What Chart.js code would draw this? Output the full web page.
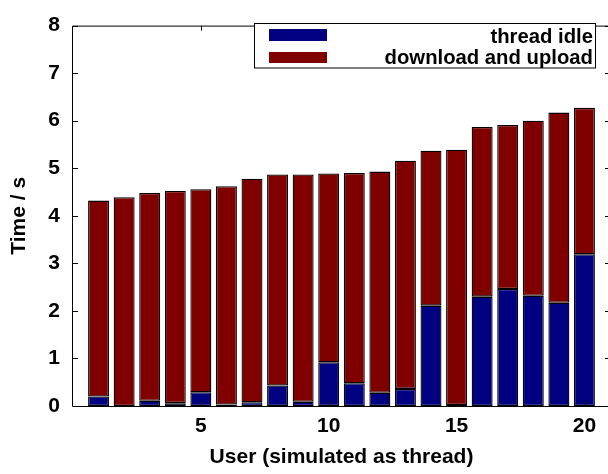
<!DOCTYPE html>
<html>
<head>
<meta charset="utf-8">
<title>Time per user</title>
<script src="https://cdn.jsdelivr.net/npm/chart.js@4/dist/chart.umd.min.js"></script>
<style>
  html, body { margin: 0; padding: 0; background: #fff; }
  #wrap { width: 608px; height: 474px; overflow: hidden; position: relative; }
  canvas { display: block; }
</style>
</head>
<body>
<div id="wrap"><canvas id="c" width="620" height="474"></canvas></div>
<script>
// Users 1..20 (each simulated as a thread)
const users = [1, 2, 3, 4, 5, 6, 7, 8, 9, 10, 11, 12, 13, 14, 15, 16, 17, 18, 19, 20];
// Seconds spent idle per thread
const threadIdle = [0.20, 0.00, 0.11, 0.06, 0.29, 0.03, 0.08, 0.43, 0.09, 0.92,
                    0.48, 0.28, 0.36, 2.11, 0.02, 2.30, 2.46, 2.32, 2.17, 3.19];
// Seconds spent downloading and uploading per thread
const downloadUpload = [4.12, 4.39, 4.37, 4.46, 4.27, 4.59, 4.70, 4.44, 4.78, 3.97,
                        4.42, 4.65, 4.80, 3.26, 5.37, 3.57, 3.45, 3.68, 4.00, 3.08];
const seriesNames = ['thread idle', 'download and upload'];
const seriesColors = ['#000080', '#800000'];
const xTicks = [5, 10, 15, 20];
const yTicks = [0, 1, 2, 3, 4, 5, 6, 7, 8];

const FONT = 'Liberation Sans, Arial, Helvetica, sans-serif';

const toPoints = vals => users.map((u, i) => ({ x: u, y: vals[i] }));

// Box around the plot with short inward tick marks on all four sides
const framePlugin = {
  id: 'frame',
  afterDatasetsDraw(chart) {
    const { ctx, chartArea: a, scales } = chart;
    ctx.save();
    ctx.strokeStyle = '#000';
    ctx.lineWidth = 1;
    ctx.beginPath();
    ctx.rect(a.left - 0.5, a.top + 0.5, a.right - a.left, a.bottom - a.top);
    ctx.stroke();
    const len = 5;
    ctx.beginPath();
    yTicks.forEach(v => {
      const y = Math.round(scales.y.getPixelForValue(v)) + 0.5;
      ctx.moveTo(a.left, y); ctx.lineTo(a.left + len, y);
      ctx.moveTo(a.right, y); ctx.lineTo(a.right - len, y);
    });
    xTicks.forEach(v => {
      const x = Math.round(scales.x.getPixelForValue(v)) + 0.5;
      ctx.moveTo(x, a.top); ctx.lineTo(x, a.top + len);
      ctx.moveTo(x, a.bottom); ctx.lineTo(x, a.bottom - len);
    });
    ctx.stroke();
    ctx.restore();
  }
};

// Legend box in the upper right: swatches on the left, right-aligned labels
const legendBoxPlugin = {
  id: 'legendBox',
  afterDraw(chart) {
    const { ctx } = chart;
    const box = { l: 254, t: 23.5, r: 595, b: 68 };
    ctx.save();
    ctx.fillStyle = '#fff';
    ctx.fillRect(box.l, box.t, box.r - box.l, box.b - box.t);
    ctx.strokeStyle = '#000';
    ctx.lineWidth = 1;
    ctx.strokeRect(box.l + 0.5, box.t, box.r - box.l, box.b - box.t);
    const rows = [
      { swTop: 29, swH: 12, base: 43 },
      { swTop: 52, swH: 11, base: 64 }
    ];
    ctx.font = 'bold 20.3px ' + FONT;
    ctx.textAlign = 'right';
    ctx.textBaseline = 'alphabetic';
    chart.data.datasets.forEach((ds, i) => {
      const r = rows[i];
      ctx.fillStyle = ds.backgroundColor;
      ctx.fillRect(269, r.swTop, 58, r.swH);
      ctx.fillStyle = '#000';
      ctx.fillText(ds.label, 593, r.base);
    });
    ctx.restore();
  }
};

new Chart(document.getElementById('c'), {
  type: 'bar',
  data: {
    datasets: [
      {
        label: seriesNames[0],
        data: toPoints(threadIdle),
        backgroundColor: seriesColors[0],
        borderColor: '#000',
        borderWidth: 1.3,
        borderSkipped: false
      },
      {
        label: seriesNames[1],
        data: toPoints(downloadUpload),
        backgroundColor: seriesColors[1],
        borderColor: '#000',
        borderWidth: 1.3,
        borderSkipped: false
      }
    ]
  },
  options: {
    responsive: false,
    animation: false,
    devicePixelRatio: 1,
    layout: { padding: { left: 0, right: 10, top: 20, bottom: 0 } },
    barPercentage: 0.82,
    categoryPercentage: 1.0,
    plugins: {
      legend: { display: false },
      tooltip: { enabled: false }
    },
    scales: {
      x: {
        type: 'linear',
        stacked: true,
        min: 0,
        max: 21,
        offset: false,
        grid: { display: false, drawTicks: false },
        border: { display: false },
        afterBuildTicks(scale) {
          scale.ticks = xTicks.map(v => ({ value: v }));
        },
        afterFit(scale) { scale.height = 68; },
        ticks: {
          padding: 8,
          color: '#000',
          font: { family: FONT, size: 21, weight: 'bold' },
          maxRotation: 0
        },
        title: {
          display: true,
          text: 'User (simulated as thread)',
          color: '#000',
          font: { family: FONT, size: 21, weight: 'bold' },
          padding: { top: 4, bottom: 4 }
        }
      },
      y: {
        stacked: true,
        min: 0,
        max: 8,
        grid: { display: false, drawTicks: false },
        border: { display: false },
        afterBuildTicks(scale) {
          scale.ticks = yTicks.map(v => ({ value: v }));
        },
        afterFit(scale) { scale.width = 73; },
        ticks: {
          padding: 13,
          color: '#000',
          font: { family: FONT, size: 21, weight: 'bold' }
        },
        title: {
          display: true,
          text: 'Time / s',
          color: '#000',
          font: { family: FONT, size: 21, weight: 'bold' },
          padding: { top: 7, bottom: 4 }
        }
      }
    }
  },
  plugins: [framePlugin, legendBoxPlugin]
});
</script>
</body>
</html>
